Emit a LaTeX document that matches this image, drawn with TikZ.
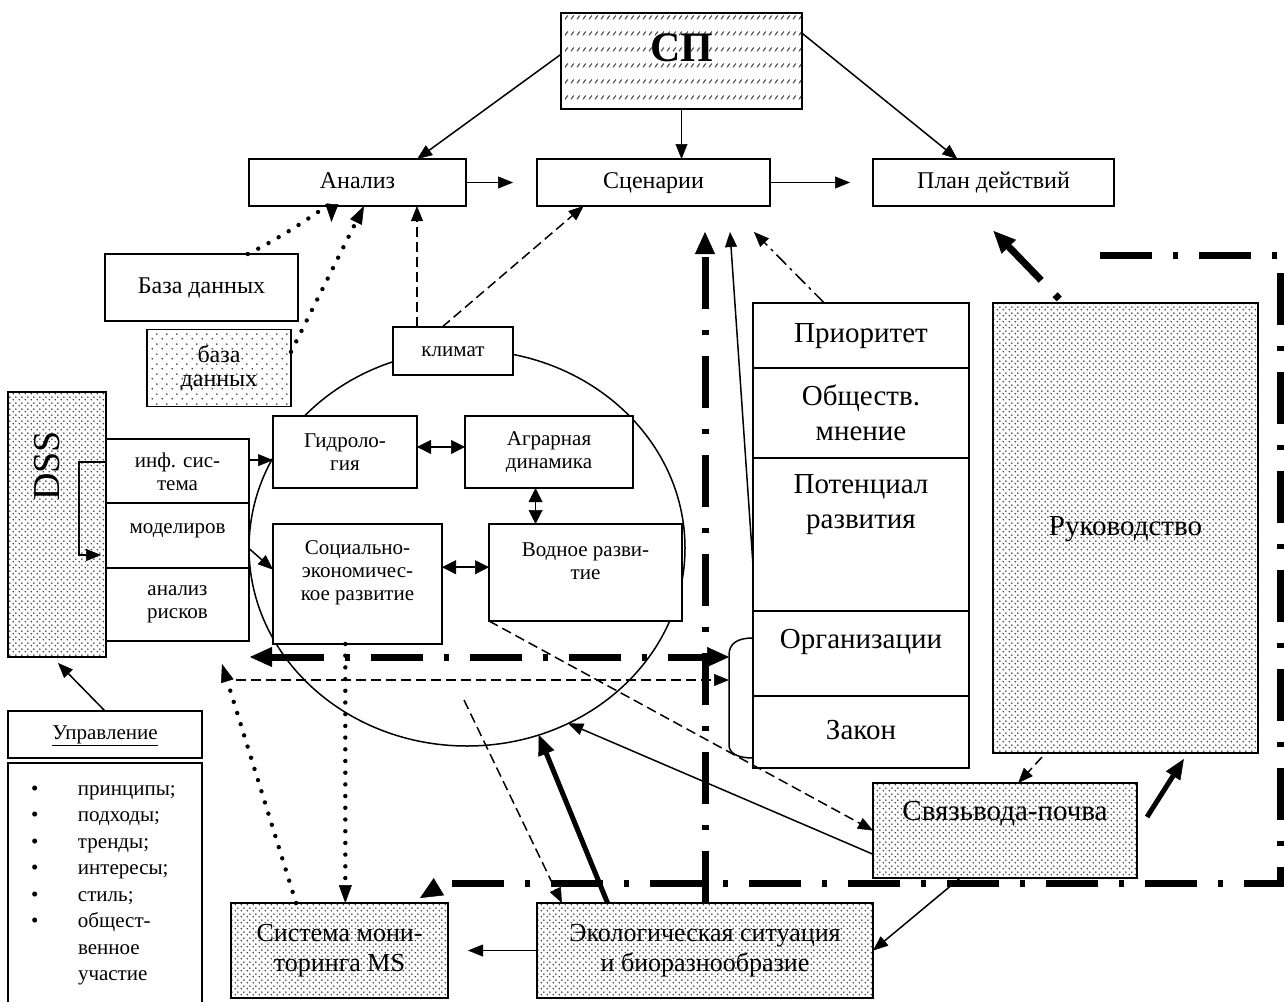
\documentclass[tikz,border=0pt]{standalone}
\usepackage{fontspec}
\setmainfont{Liberation Serif}
\usetikzlibrary{arrows.meta,calc,patterns,shapes.geometric}

% fill patterns: fine dots, sparse dots, rows of short slashes
\pgfdeclarepatternformonly{finedots}{\pgfqpoint{0pt}{0pt}}{\pgfqpoint{6pt}{6pt}}{\pgfqpoint{6pt}{6pt}}{%
  \pgfpathcircle{\pgfqpoint{1.5pt}{1.5pt}}{0.95pt}%
  \pgfpathcircle{\pgfqpoint{4.5pt}{4.5pt}}{0.95pt}%
  \pgfusepath{fill}}
\pgfdeclarepatternformonly{sparsedots}{\pgfqpoint{0pt}{0pt}}{\pgfqpoint{10pt}{10pt}}{\pgfqpoint{10pt}{10pt}}{%
  \pgfpathcircle{\pgfqpoint{2.5pt}{2.5pt}}{0.95pt}%
  \pgfpathcircle{\pgfqpoint{7.5pt}{7.5pt}}{0.95pt}%
  \pgfusepath{fill}}
\pgfdeclarepatternformonly{slashrows}{\pgfqpoint{0pt}{0pt}}{\pgfqpoint{6pt}{16pt}}{\pgfqpoint{6pt}{16pt}}{%
  \pgfsetlinewidth{1.2pt}%
  \pgfpathmoveto{\pgfqpoint{1.2pt}{6pt}}\pgfpathlineto{\pgfqpoint{4.4pt}{10pt}}%
  \pgfusepath{stroke}}

\newcommand{\fBig}{\fontsize{29}{35}\selectfont}
\newcommand{\fEco}{\fontsize{26}{30}\selectfont}
\newcommand{\fMid}{\fontsize{24}{24}\selectfont}
\newcommand{\fSm}{\fontsize{21}{23}\selectfont}
\newcommand{\fList}{\fontsize{21}{26.5}\selectfont}
\newcommand{\fSP}{\fontsize{42}{42}\selectfont\bfseries}

\begin{document}
\begin{tikzpicture}[x=1pt,y=-1pt,
  box/.style={draw, line width=1.8pt, fill=white, inner sep=0pt, outer sep=0pt, align=center},
  dbox/.style={box, fill=none, preaction={fill=white}, pattern=finedots, pattern color=black!80},
  sbox/.style={box, fill=none, preaction={fill=white}, pattern=sparsedots, pattern color=black!80},
  hbox/.style={box, fill=none, preaction={fill=white}, pattern=slashrows, pattern color=black!70},
  lineM/.style={font=\fMid, text height=17pt, text depth=5pt},
  lineB/.style={font=\fBig, text height=21pt, text depth=7pt},
  lineS/.style={font=\fSm, text height=15pt, text depth=5pt},
  txt/.style={inner sep=0pt, outer sep=0pt, align=center},
  ring/.style={draw, ellipse, line width=1.5pt, inner sep=0pt, outer sep=0pt},
  tip/.style={-{Triangle[length=15pt,width=12pt,line width=0.5pt]}},
  con/.style={line width=1.5pt, tip},
  dcon/.style={con, dash pattern=on 10pt off 5pt},
  dbl/.style={line width=1.5pt, {Triangle[length=14pt,width=14pt,line width=0.5pt]}-{Triangle[length=14pt,width=14pt,line width=0.5pt]}},
  dotline/.style={line width=4.4pt, line cap=round, dash pattern=on 0pt off 11.7pt,
                  -{Triangle[length=18pt,width=13pt,line width=0.5pt]}},
  bigtip/.style={-{Triangle[length=22pt,width=20pt,line width=0.5pt]}},
  tdd/.style={line width=7pt, dash pattern=on 52pt off 21pt on 5pt off 21pt},
  tsolid/.style={line width=5pt, -{Triangle[length=20pt,width=17pt,line width=0.5pt]}}
]
\useasboundingbox (0,0) rectangle (1284,1001);

% the circle with the subject areas
\node[ring, minimum width=436pt, minimum height=396pt] (circ) at (467,548) {};

% top row
\node[hbox, minimum width=241pt, minimum height=96pt] (sp) at (681.5,61) {};
\node[txt, font=\fSP] (spT) at (681.5,48) {СП};
\node[box, lineM, minimum width=217pt, minimum height=47pt] (ana) at (357.5,182.5) {Анализ};
\node[box, lineM, minimum width=233pt, minimum height=47pt] (scen) at (653.5,182.5) {Сценарии};
\node[box, lineM, minimum width=241pt, minimum height=47pt] (plan) at (993.5,182.5) {План действий};

% databases
\node[box, lineM, minimum width=193pt, minimum height=67pt] (bd) at (201.5,287.5) {База данных};
\node[sbox, minimum width=144pt, minimum height=77pt, font=\fMid] (bd2) at (219,368) {база\\данных};

% inside the circle
\node[box, lineS, minimum width=120pt, minimum height=48pt] (klim) at (453,351) {климат};
\node[box, minimum width=144pt, minimum height=72pt, font=\fSm] (gid) at (345,452) {Гидроло-\\гия};
\node[box, minimum width=168pt, minimum height=72pt, font=\fSm] (agr) at (549,452) {Аграрная\\динамика};
\node[box, minimum width=169pt, minimum height=120pt] (soc) at (357.5,584) {};
\node[txt, font=\fSm] (socT) at (357.5,573) {Социально-\\экономичес-\\кое развитие};
\node[box, minimum width=193pt, minimum height=97pt] (vod) at (585.5,572.5) {};
\node[txt, font=\fSm] (vodT) at (585.5,561) {Водное разви-\\тие};

% DSS block
\node[dbox, minimum width=98pt, minimum height=265pt] (dss) at (57,524.5) {};
\node[txt, font=\fontsize{38}{38}\selectfont, rotate=90] (dssT) at (47,466) {DSS};
\node[box, minimum width=143pt, minimum height=66pt, font=\fSm] (inf) at (177.5,472) {инф. сис-\\тема};
\node[box, minimum width=143pt, minimum height=65pt] (mod) at (177.5,535.5) {};
\node[txt, lineS] (modT) at (177.5,528) {моделиров};
\node[box, minimum width=143pt, minimum height=73pt, font=\fSm] (ris) at (177.5,604.5) {анализ\\рисков};

% governance list
\node[box, lineS, minimum width=194pt, minimum height=47pt] (upr) at (105,734.5) {\underline{Управление}};
\node[box, minimum width=194pt, minimum height=250pt] (lst) at (105,888) {};
\node[txt, anchor=base west, font=\fList, align=left] (items) at (31,795)
  {\begin{tabular}[t]{@{}p{47pt}@{}l@{}}
   • & принципы;\\
   • & подходы;\\
   • & тренды;\\
   • & интересы;\\
   • & стиль;\\
   • & общест-\\
     & венное\\
     & участие
   \end{tabular}};

% stack of factors
\node[box, lineB, minimum width=216pt, minimum height=65pt] (prio) at (861,335.5) {Приоритет};
\node[box, minimum width=216pt, minimum height=90pt, font=\fBig] (obs) at (861,413) {Обществ.\\мнение};
\node[box, minimum width=216pt, minimum height=153pt] (pot) at (861,534.5) {};
\node[txt, font=\fBig] (potT) at (861,505) {Потенциал\\развития};
\node[box, minimum width=216pt, minimum height=87pt] (org) at (861,654.5) {};
\node[txt, lineB] (orgT) at (861,641) {Организации};
\node[box, lineB, minimum width=216pt, minimum height=72pt] (zak) at (861,732) {Закон};

% right and bottom blocks
\node[dbox, lineB, minimum width=265pt, minimum height=450pt] (ruk) at (1125.5,528) {Руководство};
\node[dbox, minimum width=264pt, minimum height=95pt] (svz) at (1005,830.5) {};
\node[txt, lineB] (svzT) at (1005,813) {Связьвода-почва};
\node[dbox, minimum width=217pt, minimum height=95pt, font=\fEco] (ms) at (339.5,950.5) {Система мони-\\торинга MS};
\node[dbox, minimum width=336pt, minimum height=95pt, font=\fEco] (eco) at (705,950.5) {Экологическая ситуация\\и биоразнообразие};

% bracket joining Организации and Закон
\draw[line width=1.5pt] (753,638) .. controls (738,638) and (729,643) .. (729,655) -- (729,745)
  .. controls (729,753) and (737,758) .. (753,758);

% free ends
\coordinate (ddL) at (250,657);
\coordinate (dsL) at (236,680);
\coordinate (msT) at (222,664);
\coordinate (midS) at (464,700);
\coordinate (frame) at (1100,255);

% connectors from СП
\draw[con] ($(sp.north west)!0.43!(sp.south west)$) -- ($(ana.north west)!0.775!(ana.north east)$);
\draw[con] (sp.south) -- (sp.south |- scen.north);
\draw[con] ($(sp.north east)!0.21!(sp.south east)$) -- ($(plan.north west)!0.35!(plan.north east)$);
\draw[con, shorten >=24pt] (ana.east) -- (scen.west);
\draw[con, shorten >=23pt] (scen.east) -- (plan.west);

% databases to analysis
\draw[dotline] ($(bd.north west)!0.74!(bd.north east)$) .. controls (300,228) and (332,200)
  .. ($(ana.south west)!0.38!(ana.south east)+(0,16)$);
\draw[dotline] ($(bd2.north east)!0.29!(bd2.south east)$) -- ($(ana.south west)!0.53!(ana.south east)$);

% climate
\draw[dcon] ($(klim.north west)!0.2!(klim.north east)$) coordinate (k1) -- (k1 |- ana.south);
\draw[dcon] ($(klim.north west)!0.41!(klim.north east)$) -- ($(scen.south west)!0.2!(scen.south east)$);

% links inside the circle
\draw[dbl] ($(gid.north east)!0.43!(gid.south east)$) coordinate (g1) -- (g1 -| agr.west);
\draw[dbl] ($(agr.south west)!0.42!(agr.south east)$) coordinate (a1) -- (a1 |- vod.north);
\draw[dbl] ($(soc.north east)!0.36!(soc.south east)$) coordinate (s1) -- (s1 -| vod.west);

% DSS links
\draw[con] ($(inf.north east)!0.32!(inf.south east)$) coordinate (i1) -- (i1 -| gid.west);
\draw[con] ($(mod.north east)!0.7!(mod.south east)$) -- ($(soc.north west)!0.38!(soc.south west)$);
\draw[con] ($(inf.north west)!0.35!(inf.south west)$) -| ($(mod.south west)+(-27,-13)$) -- ($(mod.south west)+(-5,-13)$);
\draw[con] (upr.north) -- ($(dss.south)+(1,6)$);

% horizontal links to the bracket
\draw[tdd, {Triangle[length=22pt,width=20pt,line width=0.5pt]}-{Triangle[length=22pt,width=20pt,line width=0.5pt]}]
  (ddL) -- ($(org.west)+(-24,2.5)$);
\draw[dcon] (dsL) -- ($(org.west)+(-24,25.5)$);

% monitoring
\draw[dotline] ($(soc.south west)!0.428!(soc.south east)$) coordinate (s2) -- (s2 |- ms.north);
\draw[dotline] ($(ms.north west)!0.3!(ms.north east)$) -- (msT);
\draw[con, shorten >=20pt] (eco.west) -- (ms.east);
\draw[tsolid] ($(eco.north west)!0.21!(eco.north east)$) -- (circ.-69);
\draw[dcon] (midS) -- ($(eco.north west)!0.074!(eco.north east)$);

% water-soil link
\draw[con] ($(svz.north west)!0.75!(svz.south west)$) -- (circ.-60);
\draw[dcon] (vod.south west) -- (svz.west);
\draw[con] ($(svz.south west)!0.33!(svz.south east)$) -- (eco.east);
\draw[dcon] ($(ruk.south west)!0.185!(ruk.south east)+(0,4)$) -- ($(svz.north west)!0.55!(svz.north east)$);
\draw[tsolid] ($(svz.north east)+(10,34)$) -- ($(ruk.south west)!0.72!(ruk.south east)+(0,6)$);

% governance to plan and the outer frame
\draw[tdd, dash pattern=on 6pt off 20pt on 90pt off 20pt, bigtip]
  ($(ruk.north west)!0.25!(ruk.north east)+(0,-4)$) -- ($(plan.south)+(0,25)$);
\draw[tdd, bigtip] (frame) -- (1280,255) -- (1280,883) -- (445,883) -- ($(ms.north east)+(-28,-5)$);

% upward links to the scenarios
\draw[tdd, bigtip] (eco.north) -- ($(scen.south east)+(-65,26)$);
\draw[con] ($(pot.north west)!0.7!(pot.south west)$) -- ($(scen.south east)+(-40,26)$);
\draw[con, dash pattern=on 14pt off 5pt on 3pt off 5pt] ($(prio.north west)!0.33!(prio.north east)$)
  -- ($(scen.south east)+(-16,26)$);
\end{tikzpicture}
\end{document}
